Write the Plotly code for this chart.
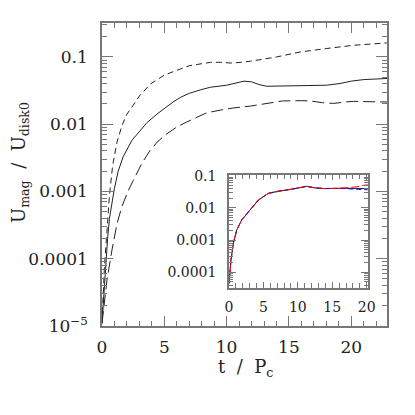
import plotly.graph_objects as go

# main panel: three runs, t in units of P_c
t_solid = [0, 0.15, 0.27, 0.45, 0.6, 0.8, 1.0, 1.3, 1.7, 2.4, 3.0, 3.6, 4.4, 5.2, 5.7, 6.3, 7.0, 7.9,
           8.7, 10.0, 10.8, 11.4, 12.0, 12.6, 13.2, 14.5, 15.9, 17.0, 18.0, 19.1, 20.0, 21.0, 22.9]
u_solid = [1.1e-5, 3.2e-5, 6.8e-5, 2.0e-4, 4.0e-4, 7.1e-4, 1.12e-3, 2.0e-3, 3.3e-3, 5.75e-3, 7.9e-3,
           0.0105, 0.0141, 0.0182, 0.0214, 0.0251, 0.0288, 0.0324, 0.0355, 0.038, 0.0407, 0.0437,
           0.0427, 0.0389, 0.0367, 0.0372, 0.0372, 0.0376, 0.038, 0.0403, 0.0437, 0.0461, 0.0479]

t_short = [0, 0.1, 0.2, 0.35, 0.6, 0.85, 1.2, 1.6, 2.0, 2.5, 3.0, 3.9, 5.0, 5.7, 7.0, 8.7, 9.5,
           10.5, 11.9, 14.0, 15.9, 18.0, 20.2, 22.9]
u_short = [1.1e-5, 3.2e-5, 7.9e-5, 1.9e-4, 8.9e-4, 2.4e-3, 5.4e-3, 9.5e-3, 0.0141, 0.0191, 0.0263,
           0.0398, 0.0537, 0.0603, 0.0741, 0.0832, 0.0832, 0.0810, 0.0863, 0.100, 0.1186, 0.1334,
           0.1493, 0.162]

t_long = [0, 0.4, 0.8, 1.2, 1.6, 2.1, 2.5, 3.2, 3.85, 4.5, 5.2, 6.0, 6.8, 7.9, 8.4, 9.5, 10.5,
          11.9, 13.2, 14.5, 16.0, 16.7, 17.7, 18.6, 19.5, 20.2, 21.5, 22.9]
u_long = [1.1e-5, 4.8e-5, 1.35e-4, 3.3e-4, 6.0e-4, 1.02e-3, 1.45e-3, 2.63e-3, 4.07e-3, 5.6e-3,
          7.2e-3, 9.1e-3, 0.0108, 0.0135, 0.0148, 0.0162, 0.0174, 0.0186, 0.0204, 0.0222, 0.0224,
          0.0222, 0.0209, 0.0204, 0.0214, 0.0219, 0.0216, 0.0214]

# inset: resolution comparison
t_in = [0, 0.29, 0.63, 1.12, 1.84, 2.8, 4.26, 5.7, 7.2, 9.1, 10.5, 11.3, 12.5, 13.95, 16.4,
        17.5, 18.6, 19.5, 20.2]
u_in_black = [4.5e-5, 2.4e-4, 7.9e-4, 2.04e-3, 4.2e-3, 7.6e-3, 0.0174, 0.0282, 0.0331, 0.038,
              0.0427, 0.0468, 0.0417, 0.0398, 0.0407, 0.0402, 0.0398, 0.0400, 0.0398]
u_in_red = [4.5e-5, 2.4e-4, 7.9e-4, 2.04e-3, 4.2e-3, 7.6e-3, 0.0174, 0.0282, 0.0331, 0.0385,
            0.0430, 0.0462, 0.0420, 0.0395, 0.0410, 0.0430, 0.0450, 0.0500, 0.0520]
u_in_blue = [4.5e-5, 2.4e-4, 7.9e-4, 2.04e-3, 4.2e-3, 7.6e-3, 0.0174, 0.0282, 0.0331, 0.0378,
             0.0425, 0.0465, 0.0415, 0.0400, 0.0400, 0.0392, 0.0385, 0.0375, 0.0365]

y_major = [1e-5, 1e-4, 1e-3, 1e-2, 1e-1]
y_labels = ["10<sup>\u22125</sup>", "0.0001", "0.001", "0.01", "0.1"]
y_minor = [m * d for d in [1e-5, 1e-4, 1e-3, 1e-2, 1e-1] for m in range(2, 10)]

FONT = "DejaVu Serif"
INK = "#222222"
FRAME = "#777777"

# the page body adds an 8px margin, so the figure is shrunk and shifted by that much
OFF = 8
SIZE = 415 - OFF
# main frame in window pixels
L, R, T, B = 102, 387, 23, 326
PW, PH = R - L, B - T

fig = go.Figure()
fig.add_trace(go.Scatter(x=t_short, y=u_short, mode="lines",
                         line=dict(color=INK, width=1, dash="6px,4px")))
fig.add_trace(go.Scatter(x=t_solid, y=u_solid, mode="lines",
                         line=dict(color=INK, width=1)))
fig.add_trace(go.Scatter(x=t_long, y=u_long, mode="lines",
                         line=dict(color=INK, width=1, dash="12px,5px")))

fig.add_trace(go.Scatter(x=t_in, y=u_in_black, mode="lines", xaxis="x2", yaxis="y2",
                         line=dict(color=INK, width=1)))
fig.add_trace(go.Scatter(x=t_in, y=u_in_blue, mode="lines", xaxis="x2", yaxis="y2",
                         line=dict(color="#0000ff", width=1, dash="5px,3px")))
fig.add_trace(go.Scatter(x=t_in, y=u_in_red, mode="lines", xaxis="x2", yaxis="y2",
                         line=dict(color="#ff0000", width=1, dash="8px,3px")))


def px_x(p):
    return (p - L) / PW


def px_y(p):
    return (B - p) / PH


def frame_axis(size, **kw):
    base = dict(showline=True, linecolor=FRAME, linewidth=1.5, mirror="ticks",
                ticks="inside", tickcolor=FRAME, tickwidth=1, showgrid=False,
                zeroline=False, automargin=False,
                tickfont=dict(family=FONT, color=INK, size=size))
    base.update(kw)
    return base


fig.update_layout(
    width=SIZE, height=SIZE,
    margin=dict(l=L - OFF, r=415 - R, t=T - OFF, b=415 - B),
    paper_bgcolor="white", plot_bgcolor="white",
    showlegend=False,
    xaxis=frame_axis(17, domain=[0, 1], range=[0, 22.87], anchor="y",
                     tickvals=[0, 5, 10, 15, 20], ticklen=10, ticklabelstandoff=5,
                     minor=dict(dtick=1, ticks="inside", ticklen=5, tickcolor=FRAME)),
    yaxis=frame_axis(17, type="log", domain=[0, 1], range=[-5, -0.495],
                     anchor="x", tickvals=y_major, ticktext=y_labels, ticklen=11,
                     ticklabelstandoff=9,
                     minor=dict(tickvals=y_minor, ticks="inside", ticklen=5, tickcolor=FRAME)),
    xaxis2=frame_axis(14, domain=[px_x(229), px_x(367.7)], range=[0, 20.15], anchor="y2",
                      tickvals=[0, 5, 10, 15, 20], ticklen=6, ticklabelstandoff=6,
                      minor=dict(dtick=1, ticks="inside", ticklen=5, tickcolor=FRAME)),
    yaxis2=frame_axis(14, type="log", domain=[px_y(287.7), px_y(174.7)],
                      range=[-4.48, -0.97], anchor="x2",
                      tickvals=y_major[1:], ticktext=y_labels[1:], ticklen=7,
                      ticklabelstandoff=8,
                      minor=dict(tickvals=y_minor, ticks="inside", ticklen=4, tickcolor=FRAME)),
    annotations=[
        dict(text="t  /  P<sub>c</sub>", xref="paper", yref="paper",
             x=px_x(245), y=px_y(368), xanchor="center", yanchor="middle",
             showarrow=False, font=dict(family=FONT, color=INK, size=18)),
        dict(text="U<sub>mag</sub>  /  U<sub>disk0</sub>", xref="paper", yref="paper",
             x=px_x(20), y=px_y(163), xanchor="center", yanchor="middle", textangle=-90,
             showarrow=False, font=dict(family=FONT, color=INK, size=18)),
    ],
)

fig.write_html("out.html")
